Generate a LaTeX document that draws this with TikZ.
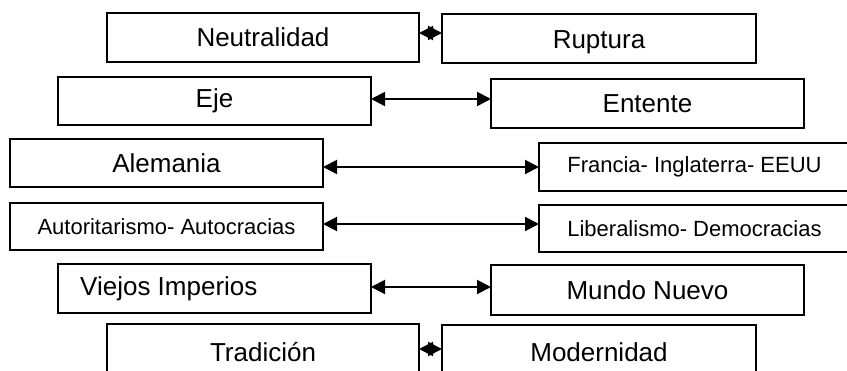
\documentclass[tikz,border=0pt]{standalone}
\usepackage{fontspec}
\setmainfont{Liberation Sans}
\usetikzlibrary{arrows.meta}
\begin{document}
\begin{tikzpicture}[x=1pt,y=-1pt,
  box/.style={draw, line width=2.5pt, inner sep=0pt, outer sep=0pt, anchor=north west},
  big/.style={font=\fontsize{26}{30}\selectfont},
  small/.style={font=\fontsize{22}{26}\selectfont},
  arr/.style={line width=2pt, {Triangle[length=14pt,width=14pt]}-{Triangle[length=14pt,width=14pt]}}]
\useasboundingbox (0,0) rectangle (847,370);
\node[box,big,minimum width=312pt,minimum height=49pt] (neu) at (107,13) {Neutralidad};
\node[box,minimum width=314pt,minimum height=49pt] (rup) at (442,14) {};
\node[big,inner sep=0pt] (rupT) at ([yshift=-4pt]rup.center) {Ruptura};
\node[box,big,minimum width=313pt,minimum height=48pt] (eje) at (58,77) {Eje};
\node[box,big,minimum width=313pt,minimum height=49pt] (ent) at (491,79) {Entente};
\node[box,big,minimum width=313pt,minimum height=48pt] (ale) at (10,139) {Alemania};
\node[box,small,minimum width=311pt,minimum height=48pt] (fra) at (539,143) {Francia- Inglaterra- EEUU};
\node[box,small,minimum width=313pt,minimum height=47pt] (aut) at (10,203) {Autoritarismo- Autocracias};
\node[box,small,minimum width=311pt,minimum height=47pt] (lib) at (539,205) {Liberalismo- Democracias};
\node[box,minimum width=313pt,minimum height=49pt] (vie) at (58,264) {};
\node[big,anchor=west,inner sep=0pt] (vieT) at ([xshift=22pt]vie.west) {Viejos Imperios};
\node[box,big,minimum width=313pt,minimum height=50pt] (mun) at (491,265) {Mundo Nuevo};
\node[box,big,minimum width=312pt,minimum height=56pt] (tra) at (107,324) {Tradición};
\node[box,big,minimum width=314pt,minimum height=55pt] (mod) at (442,325) {Modernidad};
\coordinate (y1) at (0,33);
\coordinate (y2) at (0,99);
\coordinate (y3) at (0,167);
\coordinate (y4) at (0,224);
\coordinate (y5) at (0,287);
\coordinate (y6) at (0,349);
\draw[arr] (neu.east |- y1) -- (rup.west |- y1);
\draw[arr] (eje.east |- y2) -- (ent.west |- y2);
\draw[arr] (ale.east |- y3) -- (fra.west |- y3);
\draw[arr] (aut.east |- y4) -- (lib.west |- y4);
\draw[arr] (vie.east |- y5) -- (mun.west |- y5);
\draw[arr] (tra.east |- y6) -- (mod.west |- y6);
\end{tikzpicture}
\end{document}
